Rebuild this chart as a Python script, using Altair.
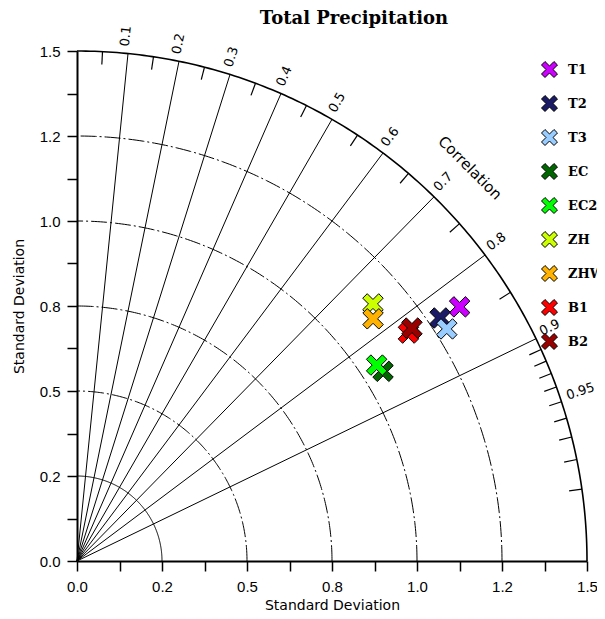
import altair as alt
import pandas as pd
import numpy as np

# ---- data ----
models = ["T1", "T2", "T3", "EC", "EC2", "ZH", "ZHW", "B1", "B2"]
colors = ["#CC00FF", "#1A1A66", "#99CCFF", "#006600", "#00FF00",
          "#CCFF00", "#FFB300", "#FF0000", "#990000"]
std_dev = [1.351, 1.285, 1.284, 1.059, 1.053, 1.153, 1.125, 1.183, 1.200]
corr = [0.833, 0.831, 0.847, 0.850, 0.837, 0.755, 0.774, 0.824, 0.821]

tick_values = [0.0, 0.25, 0.5, 0.75, 1.0, 1.25, 1.5]
tick_labels = ["0.0", "0.2", "0.5", "0.8", "1.0", "1.2", "1.5"]
minor_ticks = [0.0, 0.125, 0.25, 0.375, 0.5, 0.625, 0.75, 0.875,
               1.0, 1.125, 1.25, 1.375, 1.5]

ray_corr = [0.1, 0.2, 0.3, 0.4, 0.5, 0.6, 0.7, 0.8, 0.9]
corr_label_values = [0.1, 0.2, 0.3, 0.4, 0.5, 0.6, 0.7, 0.8, 0.9, 0.95]
corr_label_text = ["0.1", "0.2", "0.3", "0.4", "0.5", "0.6", "0.7", "0.8", "0.9", "0.95"]
corr_minor = [0.05, 0.15, 0.25, 0.35, 0.45, 0.55, 0.65, 0.75, 0.85,
              0.91, 0.92, 0.93, 0.94, 0.95, 0.96, 0.97, 0.98, 0.99]
solid_arcs = [0.25]
outer_arc = [1.5]
dashed_arcs = [0.5, 0.75, 1.0, 1.25]
title_text = ["Total Precipitation"]

R_MAX = 1.5

# ---- tables ----
c = np.array(corr)
s = np.array(std_dev)
pts = pd.DataFrame({
    "model": models,
    "x": s * c,
    "y": s * np.sqrt(1 - c ** 2),
    "std": std_dev,
    "corr": corr,
})

ray_rows = []
for rc in ray_corr:
    for r in (0.0, R_MAX):
        ray_rows.append({"id": rc, "r": r, "x": r * rc, "y": r * np.sqrt(1 - rc ** 2)})
rays = pd.DataFrame(ray_rows)


def arc_table(radii):
    th = np.linspace(0, np.pi / 2, 181)
    rows = []
    for rad in radii:
        for i, t in enumerate(th):
            rows.append({"rad": rad, "i": i, "x": rad * np.cos(t), "y": rad * np.sin(t)})
    return pd.DataFrame(rows)


tick_rows = []
for mc in corr_minor:
    sn = np.sqrt(1 - mc ** 2)
    tick_rows.append({"x": R_MAX * mc, "y": R_MAX * sn,
                      "x2": (R_MAX - 0.038) * mc, "y2": (R_MAX - 0.038) * sn})
ticks = pd.DataFrame(tick_rows)

lab_rows = []
for v, t in zip(corr_label_values, corr_label_text):
    th = np.arccos(v)
    lab_rows.append({"x": 1.52 * np.cos(th), "y": 1.52 * np.sin(th), "text": t,
                     "ang": 360 - np.degrees(th)})
corr_labels = pd.DataFrame(lab_rows)

corr_title = pd.DataFrame({"x": [1.635 * np.cos(np.pi / 4)],
                           "y": [1.635 * np.sin(np.pi / 4)],
                           "text": ["Correlation"]})

# ---- X marker path ----
a = 0.28
plus = [(a, 1), (a, a), (1, a), (1, -a), (a, -a), (a, -1), (-a, -1), (-a, -a),
        (-1, -a), (-1, a), (-a, a), (-a, 1)]
k = 1 / ((a + 1) / np.sqrt(2))
rot = [((px - py) / np.sqrt(2) * k, (px + py) / np.sqrt(2) * k) for px, py in plus]
xpath = "M" + " L".join(f"{px:.3f},{py:.3f}" for px, py in rot) + " Z"

# ---- scales & axes ----
lab_expr = " : ".join(f"datum.value == {v} ? '{t}'" for v, t in zip(tick_values, tick_labels)) + " : ''"

xs = alt.Scale(domain=[0, R_MAX], nice=False, zero=False)
ys = alt.Scale(domain=[0, R_MAX], nice=False, zero=False)

common_axis = dict(values=minor_ticks, labelExpr=lab_expr, title="Standard Deviation",
                   grid=False, domainWidth=2, domainColor="black", tickColor="black",
                   tickSize=10, tickWidth=1.5, labelFont="Liberation Sans", labelFontSize=15,
                   labelColor="black", titleFont="DejaVu Sans", titleFontSize=14,
                   titleFontWeight="normal", titleColor="black", labelFlush=False,
                   labelOverlap=False)
x_axis = alt.Axis(labelPadding=8, titlePadding=4, **common_axis)
y_axis = alt.Axis(labelPadding=7, titlePadding=13, **common_axis)

X = alt.X("x:Q", scale=xs, axis=x_axis)
Y = alt.Y("y:Q", scale=ys, axis=y_axis)

rays_layer = alt.Chart(rays).mark_line(color="black", strokeWidth=1).encode(
    x=X, y=Y, detail="id:N", order="r:Q")

solid_layer = alt.Chart(arc_table(solid_arcs)).mark_line(color="black", strokeWidth=1).encode(
    x=X, y=Y, detail="rad:N", order="i:Q")

outer_layer = alt.Chart(arc_table(outer_arc)).mark_line(color="black", strokeWidth=1.6).encode(
    x=X, y=Y, detail="rad:N", order="i:Q")

dash_layer = alt.Chart(arc_table(dashed_arcs)).mark_line(
    color="black", strokeWidth=1, strokeDash=[16, 3, 2, 3]).encode(
    x=X, y=Y, detail="rad:N", order="i:Q")

tick_layer = alt.Chart(ticks).mark_rule(color="black", strokeWidth=1.2).encode(
    x=X, y=Y, x2="x2:Q", y2="y2:Q")

label_layer = alt.Chart(corr_labels).mark_text(
    align="left", baseline="alphabetic", font="DejaVu Sans", fontSize=13,
    color="black").encode(x=X, y=Y, text="text:N", angle=alt.Angle("ang:Q", scale=None))

ctitle_layer = alt.Chart(corr_title).mark_text(
    align="center", baseline="middle", font="DejaVu Sans", fontSize=15, angle=45,
    color="black").encode(x=X, y=Y, text="text:N")

title_layer = alt.Chart(pd.DataFrame({"t": title_text})).mark_text(
    align="center", baseline="alphabetic", font="DejaVu Serif", fontSize=18,
    fontWeight="bold", color="black").encode(
    x=alt.value(277), y=alt.value(-27), text="t:N")

point_layer = alt.Chart(pts).mark_point(
    shape=xpath, filled=True, size=420, stroke="black", strokeWidth=1, opacity=1
).encode(
    x=X, y=Y,
    fill=alt.Fill("model:N", scale=alt.Scale(domain=models, range=colors), title=None,
                  legend=alt.Legend(orient="none", legendX=464, legendY=10,
                                    symbolType=xpath, symbolSize=256,
                                    symbolStrokeColor="black", symbolStrokeWidth=1,
                                    symbolOpacity=1, labelFont="DejaVu Serif",
                                    labelFontWeight="bold", labelFontSize=13,
                                    labelColor="black", labelOffset=10,
                                    rowPadding=13, padding=0, labelLimit=200)),
    order=alt.Order("order_idx:Q"),
).transform_window(order_idx="row_number()")

chart = alt.layer(
    rays_layer, solid_layer, dash_layer, outer_layer, tick_layer,
    label_layer, ctitle_layer, title_layer, point_layer
).properties(
    width=510, height=510,
    padding={"left": 69, "top": 43, "right": 10, "bottom": 50},
    autosize=alt.AutoSizeParams(type="none"),
).configure_view(stroke=None)

chart.save("out.html", embed_options={"renderer": "svg", "actions": False})
